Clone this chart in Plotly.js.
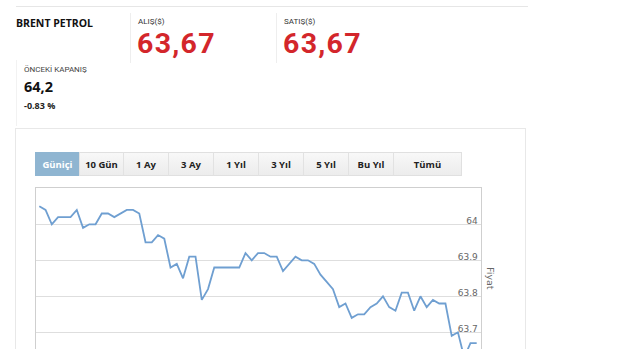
<!DOCTYPE html>
<html>
<head>
<meta charset="utf-8">
<script src="https://cdn.plot.ly/plotly-3.0.1.min.js"></script>
<style>
  html, body { margin:0; padding:0; width:620px; height:349px; overflow:hidden; background:#fff; font-family:"Open Sans", sans-serif; }
  .abs { position:absolute; white-space:nowrap; }
  .lbl { font-family:Roboto, sans-serif; font-size:8px; color:#333; }
  .big { font-family:Roboto, sans-serif; font-size:28.5px; font-weight:700; color:#d3262b; letter-spacing:1.3px; }
  .btn { position:absolute; top:152px; height:24px; line-height:24px; text-align:center; font-size:9.5px; font-weight:700; color:#222;
         background:linear-gradient(#f8f8f8,#ececec); border-top:1px solid #e0e0e0; border-bottom:1px solid #e0e0e0; box-sizing:border-box; border-left:1px solid #e2e2e2; }
  .btn.active { background:#8fb5d1; color:#fff; border-color:#8fb5d1; }
  #chart { position:absolute; left:0; top:0; width:620px; height:349px; }
</style>
</head>
<body>
<!-- header -->
<div class="abs" style="left:16px;top:6px;width:512px;height:1px;background:#e6e6e6;"></div>
<div class="abs" style="left:16px;top:16px;font-size:10.5px;font-weight:700;color:#111;line-height:14px;" id="name"></div>
<div class="abs" style="left:130px;top:13px;width:1px;height:50px;background:#eeeeee;"></div>
<div class="abs lbl" style="left:138px;top:16px;line-height:12px;">ALIŞ($)</div>
<div class="abs big" style="left:137px;top:33px;line-height:22px;" id="bid"></div>
<div class="abs" style="left:276px;top:13px;width:1px;height:50px;background:#eeeeee;"></div>
<div class="abs lbl" style="left:284px;top:16px;line-height:12px;">SATIŞ($)</div>
<div class="abs big" style="left:283px;top:33px;line-height:22px;" id="ask"></div>
<div class="abs" style="left:16px;top:60px;width:1px;height:66px;background:#f2f2f2;"></div>
<div class="abs lbl" style="left:24px;top:64px;line-height:12px;color:#444;">ÖNCEKİ KAPANIŞ</div>
<div class="abs" style="left:24px;top:78px;font-size:14.5px;font-weight:700;color:#111;line-height:18px;" id="prev"></div>
<div class="abs" style="left:24px;top:100px;font-size:9px;font-weight:700;color:#222;line-height:12px;" id="chg"></div>

<!-- card -->
<div class="abs" style="left:15px;top:128px;width:511px;height:260px;border:1px solid #e8e8e8;box-sizing:border-box;"></div>

<div id="buttons"></div>
<div id="chart"></div>

<script>
// ---- data ----
const instrument = "BRENT PETROL";
const bidPrice = "63,67";
const askPrice = "63,67";
const prevClose = "64,2";
const changePct = "-0.83 %";

const rangeLabels = ["Güniçi", "10 Gün", "1 Ay", "3 Ay", "1 Yıl", "3 Yıl", "5 Yıl", "Bu Yıl", "Tümü"];

const times = [
  "09:00","09:10","09:20","09:30","09:40","09:50","10:00","10:10","10:20","10:30",
  "10:40","10:50","11:00","11:10","11:20","11:30","11:40","11:50","12:00","12:10",
  "12:20","12:30","12:40","12:50","13:00","13:10","13:20","13:30","13:40","13:50",
  "14:00","14:10","14:20","14:30","14:40","14:50","15:00","15:10","15:20","15:30",
  "15:40","15:50","16:00","16:10","16:20","16:30","16:40","16:50","17:00","17:10",
  "17:20","17:30","17:40","17:50","18:00","18:10","18:20","18:30","18:40","18:50",
  "19:00","19:10","19:20","19:30","19:40","19:50","20:00","20:10","20:20","20:30",
  "20:40"
];

const prices = [
  64.05, 64.04, 64.00, 64.02, 64.02, 64.02, 64.04, 63.99, 64.00, 64.00,
  64.03, 64.03, 64.02, 64.03, 64.04, 64.04, 64.03, 63.95, 63.95, 63.97,
  63.96, 63.88, 63.89, 63.85, 63.91, 63.91, 63.79, 63.82, 63.88, 63.88,
  63.88, 63.88, 63.88, 63.92, 63.90, 63.92, 63.92, 63.91, 63.91, 63.87,
  63.89, 63.91, 63.90, 63.90, 63.89, 63.86, 63.84, 63.82, 63.77, 63.78,
  63.74, 63.75, 63.75, 63.77, 63.78, 63.80, 63.77, 63.76, 63.81, 63.81,
  63.76, 63.80, 63.77, 63.79, 63.78, 63.78, 63.69, 63.70, 63.63, 63.67,
  63.67
];

const yTicks = [63.7, 63.8, 63.9, 64];
const yTickText = ["63.7", "63.8", "63.9", "64"];
const yTitle = "Fiyat";

// ---- header text ----
document.getElementById("name").textContent = instrument;
document.getElementById("bid").textContent = bidPrice;
document.getElementById("ask").textContent = askPrice;
document.getElementById("prev").textContent = prevClose;
document.getElementById("chg").textContent = changePct;

// ---- buttons ----
const edges = [35, 79, 123, 168, 213, 258, 303, 348, 393, 462];
const bwrap = document.getElementById("buttons");
rangeLabels.forEach((t, i) => {
  const b = document.createElement("div");
  b.className = "btn" + (i === 0 ? " active" : "");
  b.style.left = edges[i] + "px";
  b.style.width = (edges[i + 1] - edges[i]) + "px";
  if (i === rangeLabels.length - 1) b.style.borderRight = "1px solid #e0e0e0";
  b.textContent = t;
  bwrap.appendChild(b);
});

// ---- chart ----
// plot area spans y 188..380 in page pixels; the window clips at 349
const trace = {
  x: times, y: prices, type: "scatter", mode: "lines",
  line: { color: "#6f9fd1", width: 1.8 },
  hoverinfo: "x+y",
  cliponaxis: true
};

const layout = {
  width: 620, height: 420,
  margin: { l: 36, r: 139, t: 188, b: 40, pad: 0 },
  paper_bgcolor: "rgba(0,0,0,0)",
  plot_bgcolor: "#ffffff",
  showlegend: false,
  xaxis: {
    type: "category",
    range: [-0.53, 70.69],
    showgrid: false, zeroline: false,
    showline: true, mirror: true, linecolor: "#cfcfcf", linewidth: 1,
    showticklabels: false, ticks: ""
  },
  yaxis: {
    range: [63.5675, 64.1008],
    side: "right",
    tickvals: yTicks, ticktext: yTickText,
    ticklabelposition: "inside",
    ticklabelshift: -3,
    ticklabelstandoff: 2,
    tickfont: { family: "DejaVu Sans", size: 9, color: "#666" },
    showgrid: true, gridcolor: "#dedede", gridwidth: 1.5,
    zeroline: false,
    showline: true, mirror: true, linecolor: "#cfcfcf", linewidth: 1,
    ticks: ""
  },
  annotations: [{
    text: yTitle, xref: "paper", yref: "paper",
    x: (491 - 36) / 445, y: (380 - 278) / 192,
    xanchor: "center", yanchor: "middle",
    showarrow: false, textangle: 90,
    font: { family: "DejaVu Sans", size: 9.5, color: "#666" }
  }]
};

Plotly.newPlot("chart", [trace], layout, { displayModeBar: false, staticPlot: true });
</script>
</body>
</html>
